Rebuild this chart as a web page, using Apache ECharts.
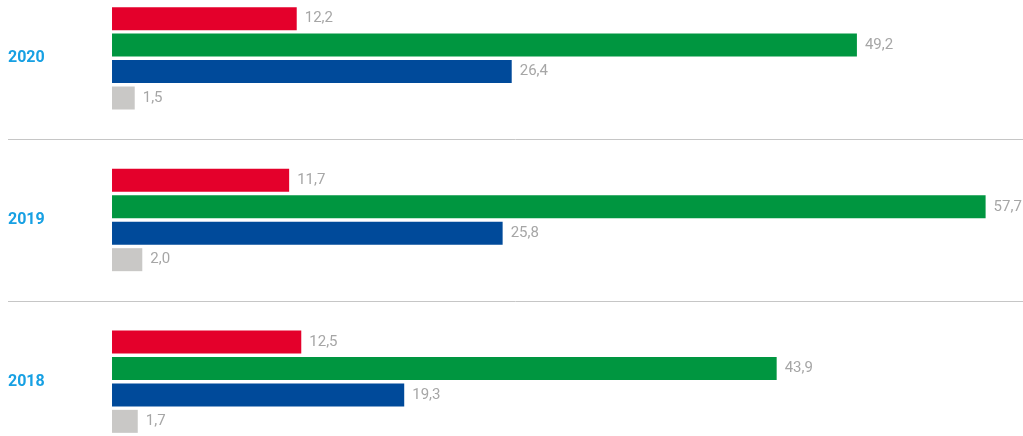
<!DOCTYPE html>
<html>
<head>
<meta charset="utf-8">
<script src="https://cdn.jsdelivr.net/npm/echarts@6/dist/echarts.min.js"></script>
<style>
  html, body { margin: 0; padding: 0; background: #fff; }
  #main { width: 1023px; height: 436px; }
</style>
</head>
<body>
<div id="main"></div>
<script>
// years, top to bottom
const years = ['2020', '2019', '2018'];
const redValues = [12.2, 11.7, 12.5];
const greenValues = [49.2, 57.7, 43.9];
const blueValues = [26.4, 25.8, 19.3];
const grayValues = [1.5, 2.0, 1.7];

const fmt = p => p.value.toFixed(1).replace('.', ',');

function makeSeries(name, data, color) {
    return {
        name: name,
        type: 'bar',
        data: data,
        barWidth: 23,
        barGap: '15%',
        itemStyle: { color: color },
        label: {
            show: true,
            position: 'right',
            distance: 8,
            color: '#a6a6a6',
            fontSize: 15,
            fontFamily: 'Roboto',
            formatter: fmt
        }
    };
}

let myChart = echarts.init(document.getElementById('main'));
myChart.setOption({
    animation: false,
    grid: {
        left: 8,
        right: 0,
        top: -22.5,
        height: 485,
        outerBoundsMode: 'none',
        containLabel: false
    },
    xAxis: {
        type: 'value',
        min: -6.87,
        max: 60.17,
        show: false
    },
    yAxis: {
        type: 'category',
        inverse: true,
        data: years,
        axisLine: { show: false },
        axisTick: { show: false },
        splitLine: {
            show: true,
            lineStyle: { color: '#c6c6c6', width: 1 }
        },
        axisLabel: {
            inside: true,
            margin: 0,
            color: '#17a0e3',
            fontSize: 16,
            fontWeight: 'bold',
            fontFamily: 'Roboto'
        }
    },
    series: [
        makeSeries('red', redValues, '#e4002b'),
        makeSeries('green', greenValues, '#009640'),
        makeSeries('blue', blueValues, '#004a9a'),
        makeSeries('gray', grayValues, '#c9c8c6')
    ]
});
</script>
</body>
</html>
